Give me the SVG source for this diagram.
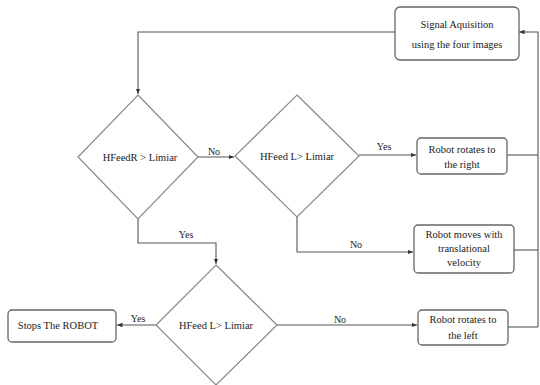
<svg xmlns="http://www.w3.org/2000/svg" width="540" height="385" viewBox="0 0 540 385">
<defs>
<marker id="ah" viewBox="0 0 10 10" refX="10" refY="5" markerWidth="5" markerHeight="5" orient="auto">
<path d="M0,1 L10,5 L0,9 z" fill="#333"/>
</marker>
<style>
.box{fill:#fff;stroke:#666;stroke-width:1.3}
.dia{fill:#fff;stroke:#888;stroke-width:1.2}
.ln{fill:none;stroke:#555;stroke-width:1.1}
.t{font-family:"Liberation Serif","Times New Roman",serif;font-size:10.5px;fill:#222;text-anchor:middle}
.lb{font-family:"Liberation Serif","Times New Roman",serif;font-size:10px;fill:#222;text-anchor:middle}
</style>
</defs>
<rect width="540" height="385" fill="#fff"/>
<g id="connectors">
<path class="ln" d="M395,32 H138 V94" marker-end="url(#ah)"/>
<path class="ln" d="M198,157 H234" marker-end="url(#ah)"/>
<path class="ln" d="M359,155 H416" marker-end="url(#ah)"/>
<path class="ln" d="M297,217 V252 H413" marker-end="url(#ah)"/>
<path class="ln" d="M138,219 V243 H216 V264" marker-end="url(#ah)"/>
<path class="ln" d="M156,325 H117" marker-end="url(#ah)"/>
<path class="ln" d="M277,325 H417" marker-end="url(#ah)"/>
<path class="ln" d="M507,155 H538"/>
<path class="ln" d="M514,250 H538"/>
<path class="ln" d="M508,327 H538"/>
<path class="ln" d="M538,327 V32 H519" marker-end="url(#ah)"/>
<text class="lb" x="214" y="155">No</text>
<text class="lb" x="384" y="150">Yes</text>
<text class="lb" x="356" y="248">No</text>
<text class="lb" x="186" y="238">Yes</text>
<text class="lb" x="138" y="322">Yes</text>
<text class="lb" x="340" y="323">No</text>
</g>
<g id="signal">
<rect class="box" x="395" y="7" width="124" height="53" rx="5"/>
<text class="t" x="457" y="28">Signal Aquisition</text>
<text class="t" x="457" y="48">using the four images</text>
</g>
<g id="d1">
<polygon class="dia" points="138,95 198,157 138,219 78,157"/>
<text class="t" x="140" y="161">HFeedR &gt; Limiar</text>
</g>
<g id="d2">
<polygon class="dia" points="297,95 359,156 297,217 235,156"/>
<text class="t" x="297" y="160">HFeed L&gt; Limiar</text>
</g>
<g id="rright">
<rect class="box" x="417" y="138" width="90" height="36" rx="4"/>
<text class="t" x="462" y="153">Robot rotates to</text>
<text class="t" x="462" y="168">the right</text>
</g>
<g id="rtrans">
<rect class="box" x="414" y="225" width="100" height="48" rx="4"/>
<text class="t" x="464" y="238">Robot moves with</text>
<text class="t" x="464" y="252">translational</text>
<text class="t" x="464" y="266">velocity</text>
</g>
<g id="d3">
<polygon class="dia" points="216,265 277,325 216,385 156,325"/>
<text class="t" x="216" y="329">HFeed L&gt; Limiar</text>
</g>
<g id="stop">
<rect class="box" x="8" y="310" width="108" height="32" rx="4"/>
<text class="t" x="58" y="329">Stops The ROBOT</text>
</g>
<g id="rleft">
<rect class="box" x="418" y="310" width="90" height="35" rx="4"/>
<text class="t" x="463" y="323">Robot rotates to</text>
<text class="t" x="463" y="339">the left</text>
</g>
</svg>
